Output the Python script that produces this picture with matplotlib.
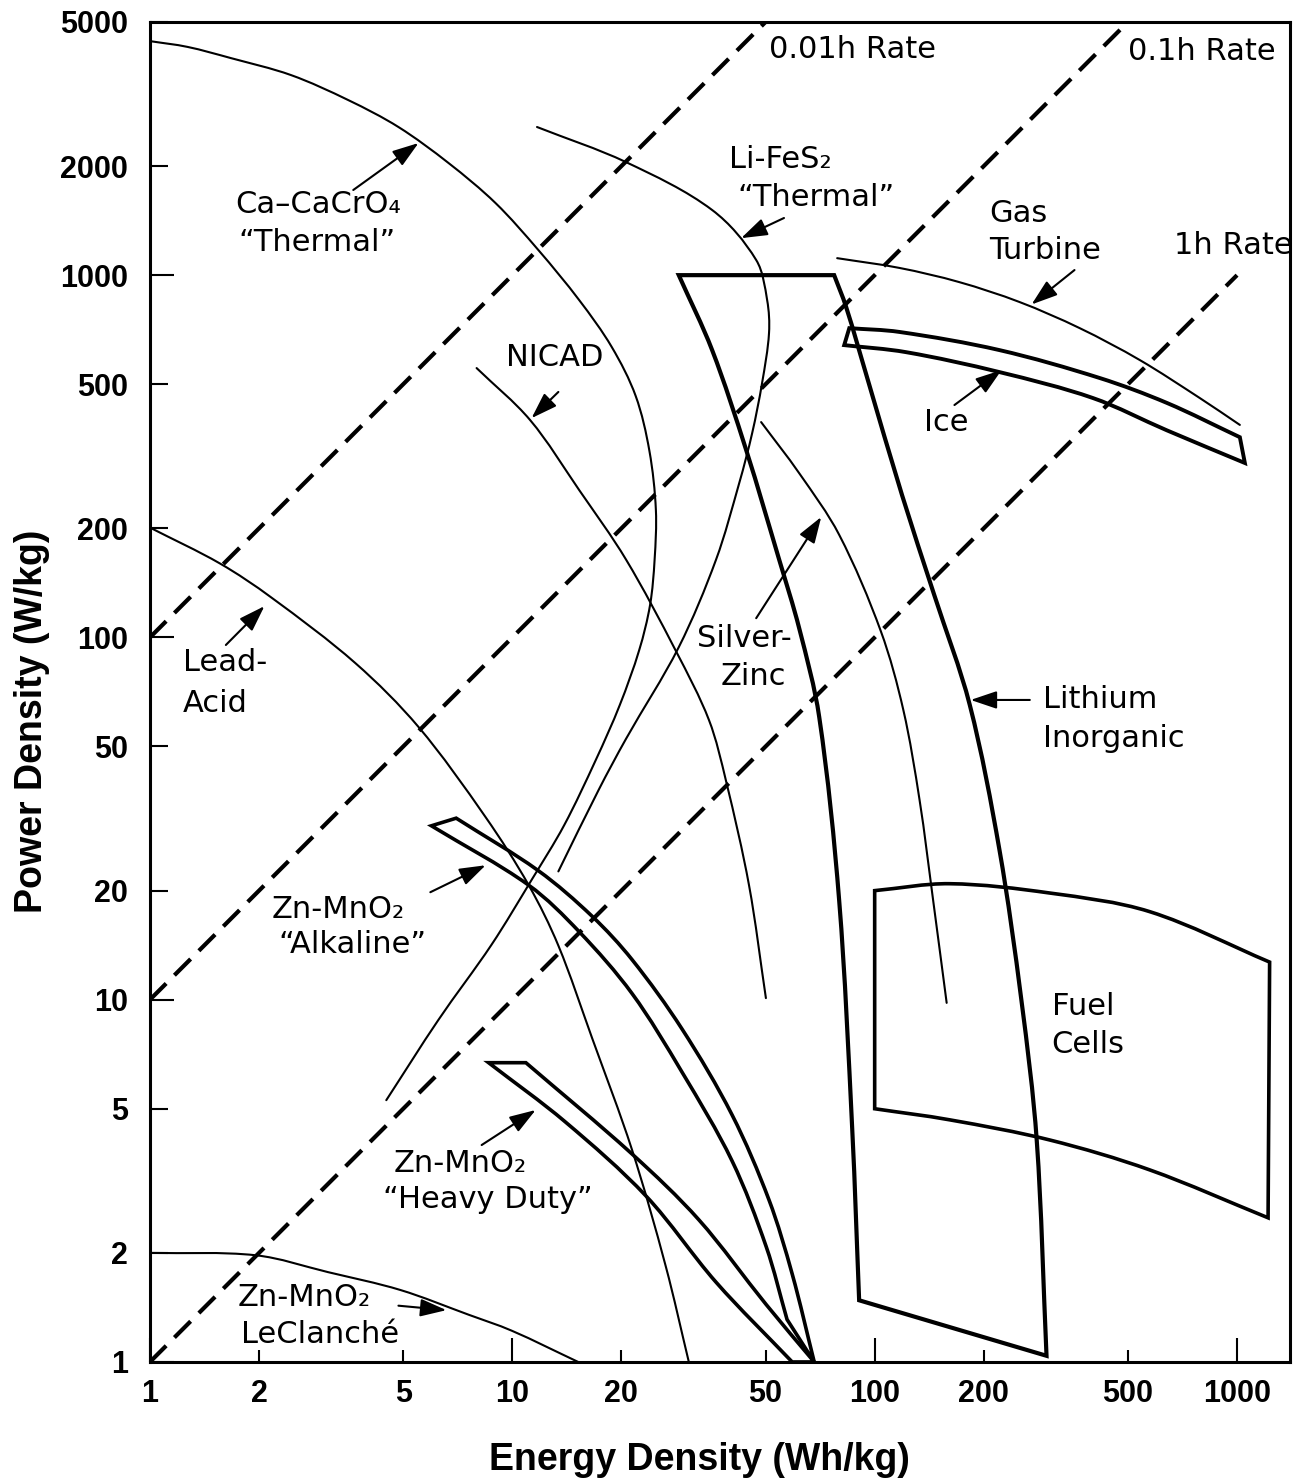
import numpy as np
import matplotlib.pyplot as plt
from matplotlib.path import Path
from matplotlib.patches import PathPatch

plt.rcParams['font.family'] = ['DejaVu Sans']

# energy density (Wh/kg) against power density (W/kg) for each system

# constant discharge-time lines (end points)
rate_e = [[1, 50], [1, 500], [1, 1000]]
rate_p = [[100, 5000], [10, 5000], [1, 1000]]

# thin single curves
ca_e = [1, 1.27, 1.67, 2.45, 3.53, 4.85, 6.67, 8.99, 11.8, 15.3, 18.8, 21.9, 23.9,
        24.9, 24.7, 24.0, 22.4, 19.8, 17.0, 13.9, 11.3, 8.77, 6.25, 4.49]
ca_p = [4426, 4266, 3975, 3567, 3041, 2564, 2039, 1581, 1173, 853, 634, 464, 327,
        225, 164, 123, 92.3, 65.1, 45.9, 30.3, 21.4, 14.2, 8.79, 5.28]

lifes_e = [11.7, 20.6, 35.6, 47.1, 50.5, 51.1, 48.9, 45.9, 42.3, 36.5, 28.8, 20.6, 17.3, 13.4]
lifes_p = [2564, 2051, 1513, 1101, 853, 692, 504, 366, 267, 164, 94.0, 52.5, 37.9, 22.6]

nicad_e = [7.97, 11.2, 15.3, 20.6, 28.3, 34.9, 38.9, 45.0, 50.1]
nicad_p = [554, 398, 255, 164, 91.6, 59.1, 40.1, 20.7, 10.1]

agzn_e = [48.6, 61.9, 79.8, 104, 120, 133, 145, 158]
agzn_p = [393, 284, 192, 104, 63.0, 35.6, 18.8, 9.8]

lead_e = [1, 1.56, 2.16, 3.69, 5.51, 8.44, 11.1, 13.4, 16.6, 21.4, 26.5, 30.7]
lead_p = [201, 160, 129, 84.9, 56.6, 31.9, 20.7, 14.1, 7.84, 3.85, 1.84, 1.0]

lecl_e = [1, 1.96, 3.10, 4.91, 7.58, 9.96, 15.2]
lecl_p = [2.0, 1.97, 1.77, 1.58, 1.35, 1.22, 1.0]

gas_e = [78.8, 117, 171, 251, 368, 539, 789, 1018]
gas_p = [1114, 1047, 957, 843, 714, 583, 458, 386]

# outlined regions: each given as two edges, joined by straight ends
alk_top_e = [7.0, 11.8, 16.6, 21.4, 29.4, 40.4, 51.1, 59.2, 68.1]
alk_top_p = [31.7, 22.7, 17.0, 12.9, 8.3, 4.81, 2.80, 1.75, 1.0]
alk_bot_e = [57.3, 50.2, 40.4, 29.4, 21.4, 15.3, 11.1, 5.98]
alk_bot_p = [1.31, 2.08, 3.59, 6.31, 10.4, 15.4, 20.7, 30.2]

hd_top_e = [10.9, 21.4, 32.7, 50.2, 68.1]
hd_top_p = [6.7, 3.75, 2.47, 1.44, 1.0]
hd_bot_e = [59.2, 36.5, 23.4, 14.0, 8.6]
hd_bot_p = [1.0, 1.66, 2.87, 4.6, 6.7]

li_right_e = [77.3, 83.4, 95.4, 119, 146, 183, 221, 254, 280, 298]
li_right_p = [1000, 817, 520, 247, 131, 65.1, 25.9, 9.98, 4.10, 1.04]
li_left_e = [90.6, 86.7, 79.8, 70.3, 61.9, 54.5, 44.2, 35.6, 28.8]
li_left_p = [1.48, 4.40, 18.8, 60.3, 106, 164, 329, 621, 1000]

ice_top_e = [85.1, 117, 221, 418, 640, 1018]
ice_top_p = [714, 697, 621, 520, 444, 357]
ice_bot_e = [1051, 640, 400, 221, 122, 82.4]
ice_bot_p = [303, 373, 458, 540, 613, 641]

fc_top_e = [100, 161, 304, 574, 1230]
fc_top_p = [20.0, 20.9, 19.7, 17.5, 12.7]
fc_bot_e = [1218, 574, 304, 161, 100]
fc_bot_p = [2.5, 3.39, 4.10, 4.66, 5.0]

x_major = [1, 10, 100, 1000]
x_minor = [2, 5, 20, 50, 200, 500]
y_major = [1, 10, 100, 1000]
y_minor = [2, 5, 20, 50, 200, 500, 2000, 5000]


def bezier_through(xs, ys):
    # cubic pieces through every point, worked out in log space
    pts = np.column_stack([np.log10(xs), np.log10(ys)])
    n = len(pts)
    d = np.zeros_like(pts)
    d[0] = pts[1] - pts[0]
    d[-1] = pts[-1] - pts[-2]
    if n > 2:
        d[1:-1] = pts[2:] - pts[:-2]
    d = d / np.linalg.norm(d, axis=1, keepdims=True)
    verts, codes = [], []
    for i in range(n - 1):
        L = np.linalg.norm(pts[i + 1] - pts[i]) / 3
        verts += [pts[i] + d[i] * L, pts[i + 1] - d[i + 1] * L, pts[i + 1]]
        codes += [Path.CURVE4] * 3
    return pts[0], verts, codes


def curve(ax, xs, ys, lw):
    start, verts, codes = bezier_through(xs, ys)
    path = Path(10 ** np.array([start] + verts), [Path.MOVETO] + codes)
    ax.add_patch(PathPatch(path, fill=False, ec='black', lw=lw, capstyle='round'))


def outline(ax, edges, lw):
    allv, allc = [], []
    for k, (xs, ys) in enumerate(edges):
        start, verts, codes = bezier_through(xs, ys)
        allv.append(start)
        allc.append(Path.MOVETO if k == 0 else Path.LINETO)
        allv += verts
        allc += codes
    allv.append(allv[0])
    allc.append(Path.CLOSEPOLY)
    path = Path(10 ** np.array(allv), allc)
    ax.add_patch(PathPatch(path, fill=False, ec='black', lw=lw, joinstyle='miter'))


fig = plt.figure(figsize=(13.05, 14.82), dpi=100)
ax = fig.add_axes([0.1149, 0.0810, 0.8736, 0.9042])
ax.set_xscale('log')
ax.set_yscale('log')
ax.set_xlim(1, 1400)
ax.set_ylim(1, 5000)

for e, p in zip(rate_e, rate_p):
    ax.plot(e, p, color='black', lw=3.0, linestyle=(0, (5.5, 2.8)))

for e, p in [(ca_e, ca_p), (lifes_e, lifes_p), (nicad_e, nicad_p), (agzn_e, agzn_p),
             (lead_e, lead_p), (lecl_e, lecl_p), (gas_e, gas_p)]:
    curve(ax, e, p, 1.5)

outline(ax, [(alk_top_e, alk_top_p), (alk_bot_e, alk_bot_p)], 2.6)
outline(ax, [(hd_top_e, hd_top_p), (hd_bot_e, hd_bot_p)], 2.6)
outline(ax, [(li_right_e, li_right_p), (li_left_e, li_left_p)], 3.0)
outline(ax, [(ice_top_e, ice_top_p), (ice_bot_e, ice_bot_p)], 2.8)
outline(ax, [(fc_top_e, fc_top_p), (fc_bot_e, fc_bot_p)], 2.6)

# labels and pointer arrows
fs = 22
labels = [
    ('0.01h Rate', 51, 4200),
    ('0.1h Rate', 500, 4150),
    ('1h Rate', 670, 1210),
    ('Li-FeS\u2082', 39.6, 2080),
    ('\u201cThermal\u201d', 41.7, 1633),
    ('Gas', 207, 1484),
    ('Turbine', 207, 1173),
    ('Ca\u2013CaCrO\u2084', 1.72, 1563),
    ('\u201cThermal\u201d', 1.75, 1227),
    ('NICAD', 9.58, 594),
    ('Lead-', 1.23, 85),
    ('Acid', 1.23, 65.9),
    ('Silver-', 32.3, 99.6),
    ('Zinc', 37.6, 77.8),
    ('Lithium', 291, 67.2),
    ('Inorganic', 291, 52.7),
    ('Ice', 137, 393),
    ('Fuel', 308, 9.55),
    ('Cells', 308, 7.5),
    ('Zn-MnO\u2082', 2.16, 17.7),
    ('\u201cAlkaline\u201d', 2.26, 14.2),
    ('Zn-MnO\u2082', 4.70, 3.54),
    ('\u201cHeavy Duty\u201d', 4.41, 2.80),
    ('Zn-MnO\u2082', 1.75, 1.51),
    ('LeClanch\u00e9', 1.78, 1.19),
]
for s, x, y in labels:
    ax.text(x, y, s, fontsize=fs, ha='left', va='center')

arrows = [
    ((56.2, 1438), (42.8, 1265)),
    ((356, 1033), (271, 830)),
    ((3.64, 1718), (5.51, 2316)),
    ((13.4, 476), (11.3, 403)),
    ((1.62, 95.3), (2.07, 122)),
    ((47.1, 113), (71.2, 215)),
    ((268, 67.2), (184, 67.2)),
    ((166, 438), (224, 547)),
    ((5.94, 19.8), (8.44, 23.5)),
    ((8.23, 3.97), (11.6, 4.96)),
    ((4.85, 1.43), (6.58, 1.39)),
]
for tail, head in arrows:
    ax.annotate('', xy=head, xytext=tail,
                arrowprops=dict(arrowstyle='-|>,head_length=0.8,head_width=0.27',
                                mutation_scale=20, lw=1.5, color='black',
                                shrinkA=0, shrinkB=0))

# axes, ticks
for sp in ax.spines.values():
    sp.set_linewidth(2.2)

ax.set_xticks(x_major)
ax.set_xticklabels([str(v) for v in x_major])
ax.set_xticks(x_minor, minor=True)
ax.set_xticklabels([str(v) for v in x_minor], minor=True)
ax.set_yticks(y_major)
ax.set_yticklabels([str(v) for v in y_major])
ax.set_yticks(y_minor, minor=True)
ax.set_yticklabels([str(v) for v in y_minor], minor=True)

ax.tick_params(which='both', direction='in', width=1.5, top=False, right=False)
ax.tick_params(axis='x', which='major', length=17, pad=12)
ax.tick_params(axis='x', which='minor', length=9, pad=12)
ax.tick_params(axis='y', which='major', length=17, pad=16)
ax.tick_params(axis='y', which='minor', length=13, pad=16)

for lbl in ax.get_xticklabels(which='both') + ax.get_yticklabels(which='both'):
    lbl.set_fontfamily('Liberation Sans')
    lbl.set_fontweight('bold')
    lbl.set_fontsize(22)

ax.set_xlabel('Energy Density (Wh/kg)', fontsize=27, fontweight='bold',
              family='Liberation Sans')
ax.set_ylabel('Power Density (W/kg)', fontsize=27, fontweight='bold',
              family='Liberation Sans')
ax.xaxis.set_label_coords(0.482, -0.06)
ax.yaxis.set_label_coords(-0.088, 0.478)

fig.savefig('out.png', dpi=100)
